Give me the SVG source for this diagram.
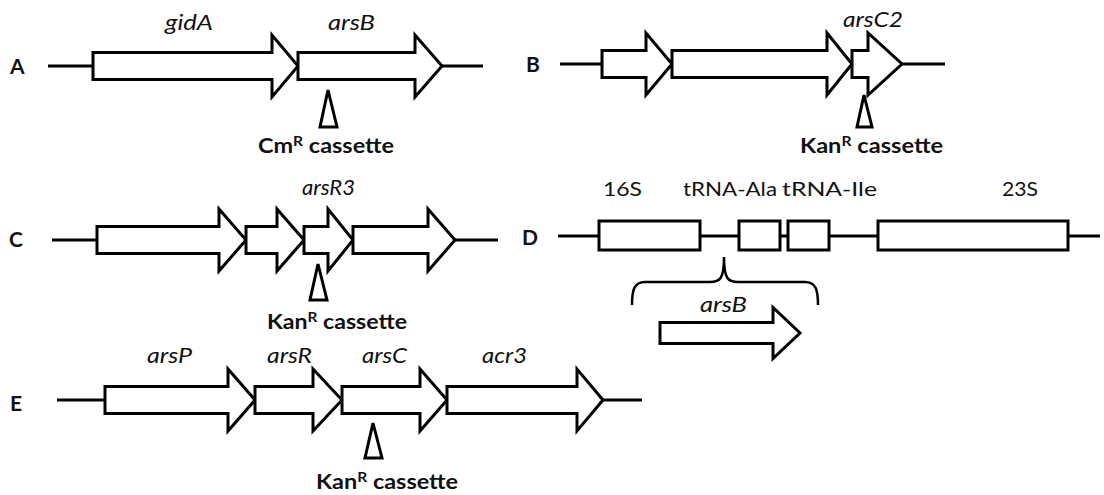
<svg xmlns="http://www.w3.org/2000/svg" width="1104" height="495" viewBox="0 0 1104 495">
<style>
  .ln { stroke:#000; stroke-width:3; fill:none; }
  .gene { fill:#fff; stroke:#000; stroke-width:3; stroke-linejoin:miter; }
  .box { fill:#fff; stroke:#000; stroke-width:3; }
  .tri { fill:#fff; stroke:#000; stroke-width:3; stroke-linejoin:miter; }
  .brace { fill:none; stroke:#000; stroke-width:2.5; }
  .it { font-family:Lato,"Liberation Sans",sans-serif; font-style:italic; font-size:21px; fill:#111; }
  .up { font-family:Lato,"Liberation Sans",sans-serif; font-size:20px; fill:#111; }
  .bd { font-family:Lato,"Liberation Sans",sans-serif; font-weight:bold; font-size:21px; fill:#111; }
  .lab { font-family:Lato,"Liberation Sans",sans-serif; font-weight:bold; font-size:21px; fill:#111; }
  .sup { font-size:14px; }
</style>
<rect width="1104" height="495" fill="#fff"/>

<g id="connectors">
  <line class="ln" x1="48" y1="66" x2="93" y2="66"/>
  <line class="ln" x1="442" y1="66" x2="483" y2="66"/>
  <line class="ln" x1="560" y1="64" x2="602" y2="64"/>
  <line class="ln" x1="902" y1="64" x2="945" y2="64"/>
  <line class="ln" x1="52" y1="240" x2="97" y2="240"/>
  <line class="ln" x1="455" y1="240" x2="498" y2="240"/>
  <line class="ln" x1="558" y1="236" x2="1100" y2="236"/>
  <line class="ln" x1="57" y1="400" x2="105" y2="400"/>
  <line class="ln" x1="603" y1="400" x2="642" y2="400"/>
</g>

<g id="panelA">
  <text class="lab" x="10" y="74">A</text>
  <g id="A-gidA">
    <path class="gene" d="M93,52.5 L272,52.5 L272,35 L298,66 L272,97 L272,79.5 L93,79.5 Z"/>
    <text class="it" x="165" y="30" textLength="48" lengthAdjust="spacingAndGlyphs">gidA</text>
  </g>
  <g id="A-arsB">
    <path class="gene" d="M298,52.5 L415,52.5 L415,35 L442,66 L415,97 L415,79.5 L298,79.5 Z"/>
    <text class="it" x="328" y="30" textLength="47" lengthAdjust="spacingAndGlyphs">arsB</text>
  </g>
  <g id="A-cassette">
    <path class="tri" d="M328,90 L337,127 L320,127 Z"/>
    <text class="bd" x="258" y="153" textLength="136" lengthAdjust="spacingAndGlyphs">Cm<tspan class="sup" dy="-7">R</tspan><tspan dy="7"> cassette</tspan></text>
  </g>
</g>

<g id="panelB">
  <text class="lab" x="526" y="72">B</text>
  <g id="B-gene1"><path class="gene" d="M602,50.5 L646,50.5 L646,33 L672,64 L646,95 L646,77.5 L602,77.5 Z"/></g>
  <g id="B-gene2"><path class="gene" d="M672,50.5 L827,50.5 L827,33 L852,64 L827,95 L827,77.5 L672,77.5 Z"/></g>
  <g id="B-arsC2">
    <path class="gene" d="M852,50.5 L868,50.5 L868,33 L902,64 L868,95 L868,77.5 L852,77.5 Z"/>
    <text class="it" x="843" y="27" textLength="60" lengthAdjust="spacingAndGlyphs">arsC2</text>
  </g>
  <g id="B-cassette">
    <path class="tri" d="M864,95 L872,127 L857,127 Z"/>
    <text class="bd" x="800" y="153" textLength="143" lengthAdjust="spacingAndGlyphs">Kan<tspan class="sup" dy="-7">R</tspan><tspan dy="7"> cassette</tspan></text>
  </g>
</g>

<g id="panelC">
  <text class="lab" x="9" y="247">C</text>
  <g id="C-gene1"><path class="gene" d="M97,226.5 L219,226.5 L219,209 L246,240 L219,271 L219,253.5 L97,253.5 Z"/></g>
  <g id="C-gene2"><path class="gene" d="M246,226.5 L277,226.5 L277,209 L304,240 L277,271 L277,253.5 L246,253.5 Z"/></g>
  <g id="C-arsR3">
    <path class="gene" d="M304,226.5 L328,226.5 L328,209 L353,240 L328,271 L328,253.5 L304,253.5 Z"/>
    <text class="it" x="302" y="195" textLength="53" lengthAdjust="spacingAndGlyphs">arsR3</text>
  </g>
  <g id="C-gene4"><path class="gene" d="M353,226.5 L428,226.5 L428,209 L455,240 L428,271 L428,253.5 L353,253.5 Z"/></g>
  <g id="C-cassette">
    <path class="tri" d="M318,264 L327,300 L310,300 Z"/>
    <text class="bd" x="267" y="329" textLength="140" lengthAdjust="spacingAndGlyphs">Kan<tspan class="sup" dy="-7">R</tspan><tspan dy="7"> cassette</tspan></text>
  </g>
</g>

<g id="panelD">
  <text class="lab" x="522" y="245">D</text>
  <g id="D-16S">
    <rect class="box" x="599" y="221" width="101" height="29"/>
    <text class="up" x="603" y="196" textLength="39" lengthAdjust="spacingAndGlyphs">16S</text>
  </g>
  <g id="D-tRNA-Ala">
    <rect class="box" x="739" y="221" width="41" height="29"/>
    <text class="up" x="683" y="196" textLength="94" lengthAdjust="spacingAndGlyphs">tRNA-Ala</text>
  </g>
  <g id="D-tRNA-Ile">
    <rect class="box" x="788" y="221" width="41" height="29"/>
    <text class="up" x="782" y="196" textLength="95" lengthAdjust="spacingAndGlyphs">tRNA-Ile</text>
  </g>
  <g id="D-23S">
    <rect class="box" x="878" y="221" width="190" height="29"/>
    <text class="up" x="1002" y="196" textLength="36" lengthAdjust="spacingAndGlyphs">23S</text>
  </g>
  <g id="D-brace">
    <path class="brace" d="M632,305 C632,290 634,282 645,282 L710,282 C720,282 724,279 724,257 C724,279 728,282 738,282 L805,282 C816,282 818,290 818,305"/>
  </g>
  <g id="D-arsB">
    <path class="gene" d="M660,322.5 L773,322.5 L773,307.5 L800,333 L773,358.5 L773,343.5 L660,343.5 Z"/>
    <text class="it" x="700" y="312" textLength="47" lengthAdjust="spacingAndGlyphs">arsB</text>
  </g>
</g>

<g id="panelE">
  <text class="lab" x="10" y="411">E</text>
  <g id="E-arsP">
    <path class="gene" d="M105,386.5 L228,386.5 L228,369 L255,400 L228,431 L228,413.5 L105,413.5 Z"/>
    <text class="it" x="147" y="363" textLength="45" lengthAdjust="spacingAndGlyphs">arsP</text>
  </g>
  <g id="E-arsR">
    <path class="gene" d="M255,386.5 L313,386.5 L313,369 L342,400 L313,431 L313,413.5 L255,413.5 Z"/>
    <text class="it" x="267" y="363" textLength="45" lengthAdjust="spacingAndGlyphs">arsR</text>
  </g>
  <g id="E-arsC">
    <path class="gene" d="M342,386.5 L420,386.5 L420,369 L447,400 L420,431 L420,413.5 L342,413.5 Z"/>
    <text class="it" x="362" y="363" textLength="45" lengthAdjust="spacingAndGlyphs">arsC</text>
  </g>
  <g id="E-acr3">
    <path class="gene" d="M447,386.5 L577,386.5 L577,369 L603,400 L577,431 L577,413.5 L447,413.5 Z"/>
    <text class="it" x="482" y="363" textLength="45" lengthAdjust="spacingAndGlyphs">acr3</text>
  </g>
  <g id="E-cassette">
    <path class="tri" d="M373,423 L382,458 L365,458 Z"/>
    <text class="bd" x="316" y="489" textLength="142" lengthAdjust="spacingAndGlyphs">Kan<tspan class="sup" dy="-7">R</tspan><tspan dy="7"> cassette</tspan></text>
  </g>
</g>
</svg>
